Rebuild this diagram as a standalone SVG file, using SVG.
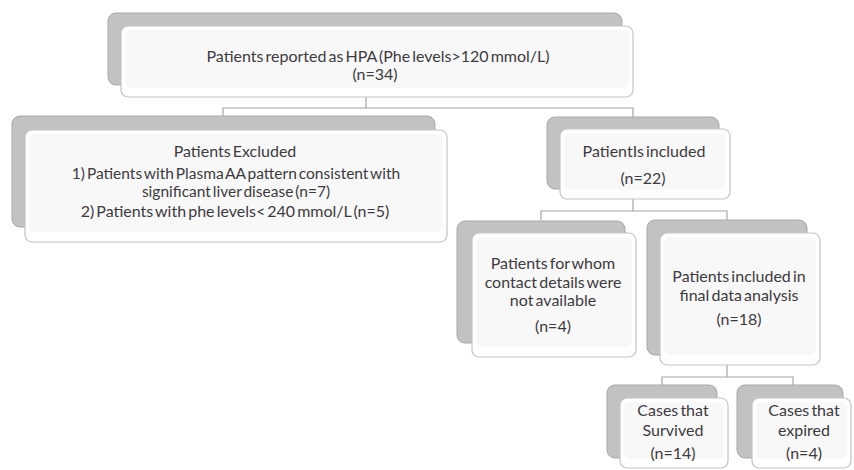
<svg xmlns="http://www.w3.org/2000/svg" width="854" height="470" viewBox="0 0 854 470">
<style>
.back{fill:#c2c2c2;stroke:#a8a8a8;stroke-width:1}
.front{fill:#ffffff;stroke:#c4c4c4;stroke-width:1.2}
.inner{fill:#f8f8f8}
.t{font-family:Lato,"Open Sans",sans-serif;font-size:16px;fill:#3d3a40;text-anchor:middle;word-spacing:-2px}
.s{font-size:15.5px}
.c{fill:none;stroke:#a6a6a6;stroke-width:1.2}
</style>
<rect width="854" height="470" fill="#ffffff"/>
<g id="connectors">
<path class="c" d="M366 97V108M223 116V108H633V117"/>
<path class="c" d="M633 199V211M541 220V211H727V220"/>
<path class="c" d="M727 365V377M662 385V377H793V385"/>
</g>
<g id="n-top">
<rect class="back" x="108" y="13" width="514" height="72" rx="8"/>
<rect class="front" x="121" y="26" width="512" height="71" rx="7"/>
<rect class="inner" x="125" y="30" width="504" height="58" rx="6"/>
<text class="t" x="378" y="62">Patients reported as HPA (Phe levels&gt;120 mmol/L)</text>
<text class="t" x="375" y="80">(n=34)</text>
</g>
<g id="n-excluded">
<rect class="back" x="12" y="116" width="423" height="111" rx="8"/>
<rect class="front" x="25" y="130" width="422" height="112" rx="7"/>
<rect class="inner" x="29" y="134" width="414" height="98" rx="6"/>
<text class="t" x="235" y="157">Patients Excluded</text>
<text class="t s" x="236" y="179">1) Patients with Plasma AA pattern consistent with</text>
<text class="t s" x="236" y="197">significant liver disease (n=7)</text>
<text class="t" x="235" y="217">2) Patients with phe levels&lt; 240 mmol/L (n=5)</text>
</g>
<g id="n-included">
<rect class="back" x="547" y="117" width="172" height="72" rx="8"/>
<rect class="front" x="560" y="129" width="170" height="70" rx="7"/>
<rect class="inner" x="564" y="133" width="162" height="57" rx="6"/>
<text class="t" x="644" y="157">PatientIs included</text>
<text class="t" x="643" y="184">(n=22)</text>
</g>
<g id="n-notavailable">
<rect class="back" x="457" y="221" width="168" height="122" rx="8"/>
<rect class="front" x="472" y="233" width="164" height="124" rx="7"/>
<rect class="inner" x="476" y="237" width="156" height="110" rx="6"/>
<text class="t" x="553" y="269">Patients for whom</text>
<text class="t" x="553" y="288">contact details were</text>
<text class="t" x="553" y="306">not available</text>
<text class="t" x="553" y="332">(n=4)</text>
</g>
<g id="n-final">
<rect class="back" x="647" y="220" width="160" height="135" rx="8"/>
<rect class="front" x="660" y="233" width="160" height="132" rx="7"/>
<rect class="inner" x="664" y="237" width="152" height="118" rx="6"/>
<text class="t" x="739" y="282">Patients included in</text>
<text class="t" x="739" y="301">final data analysis</text>
<text class="t" x="739" y="325">(n=18)</text>
</g>
<g id="n-survived">
<rect class="back" x="607" y="385" width="110" height="73" rx="8"/>
<rect class="front" x="620" y="398" width="108" height="70" rx="7"/>
<rect class="inner" x="624" y="402" width="100" height="57" rx="6"/>
<text class="t" x="673" y="416">Cases that</text>
<text class="t" x="673" y="436">Survived</text>
<text class="t" x="673" y="459">(n=14)</text>
</g>
<g id="n-expired">
<rect class="back" x="737" y="385" width="106" height="73" rx="8"/>
<rect class="front" x="752" y="398" width="99" height="70" rx="7"/>
<rect class="inner" x="756" y="402" width="91" height="57" rx="6"/>
<text class="t" x="804" y="416">Cases that</text>
<text class="t" x="804" y="436">expired</text>
<text class="t" x="804" y="459">(n=4)</text>
</g>
</svg>
